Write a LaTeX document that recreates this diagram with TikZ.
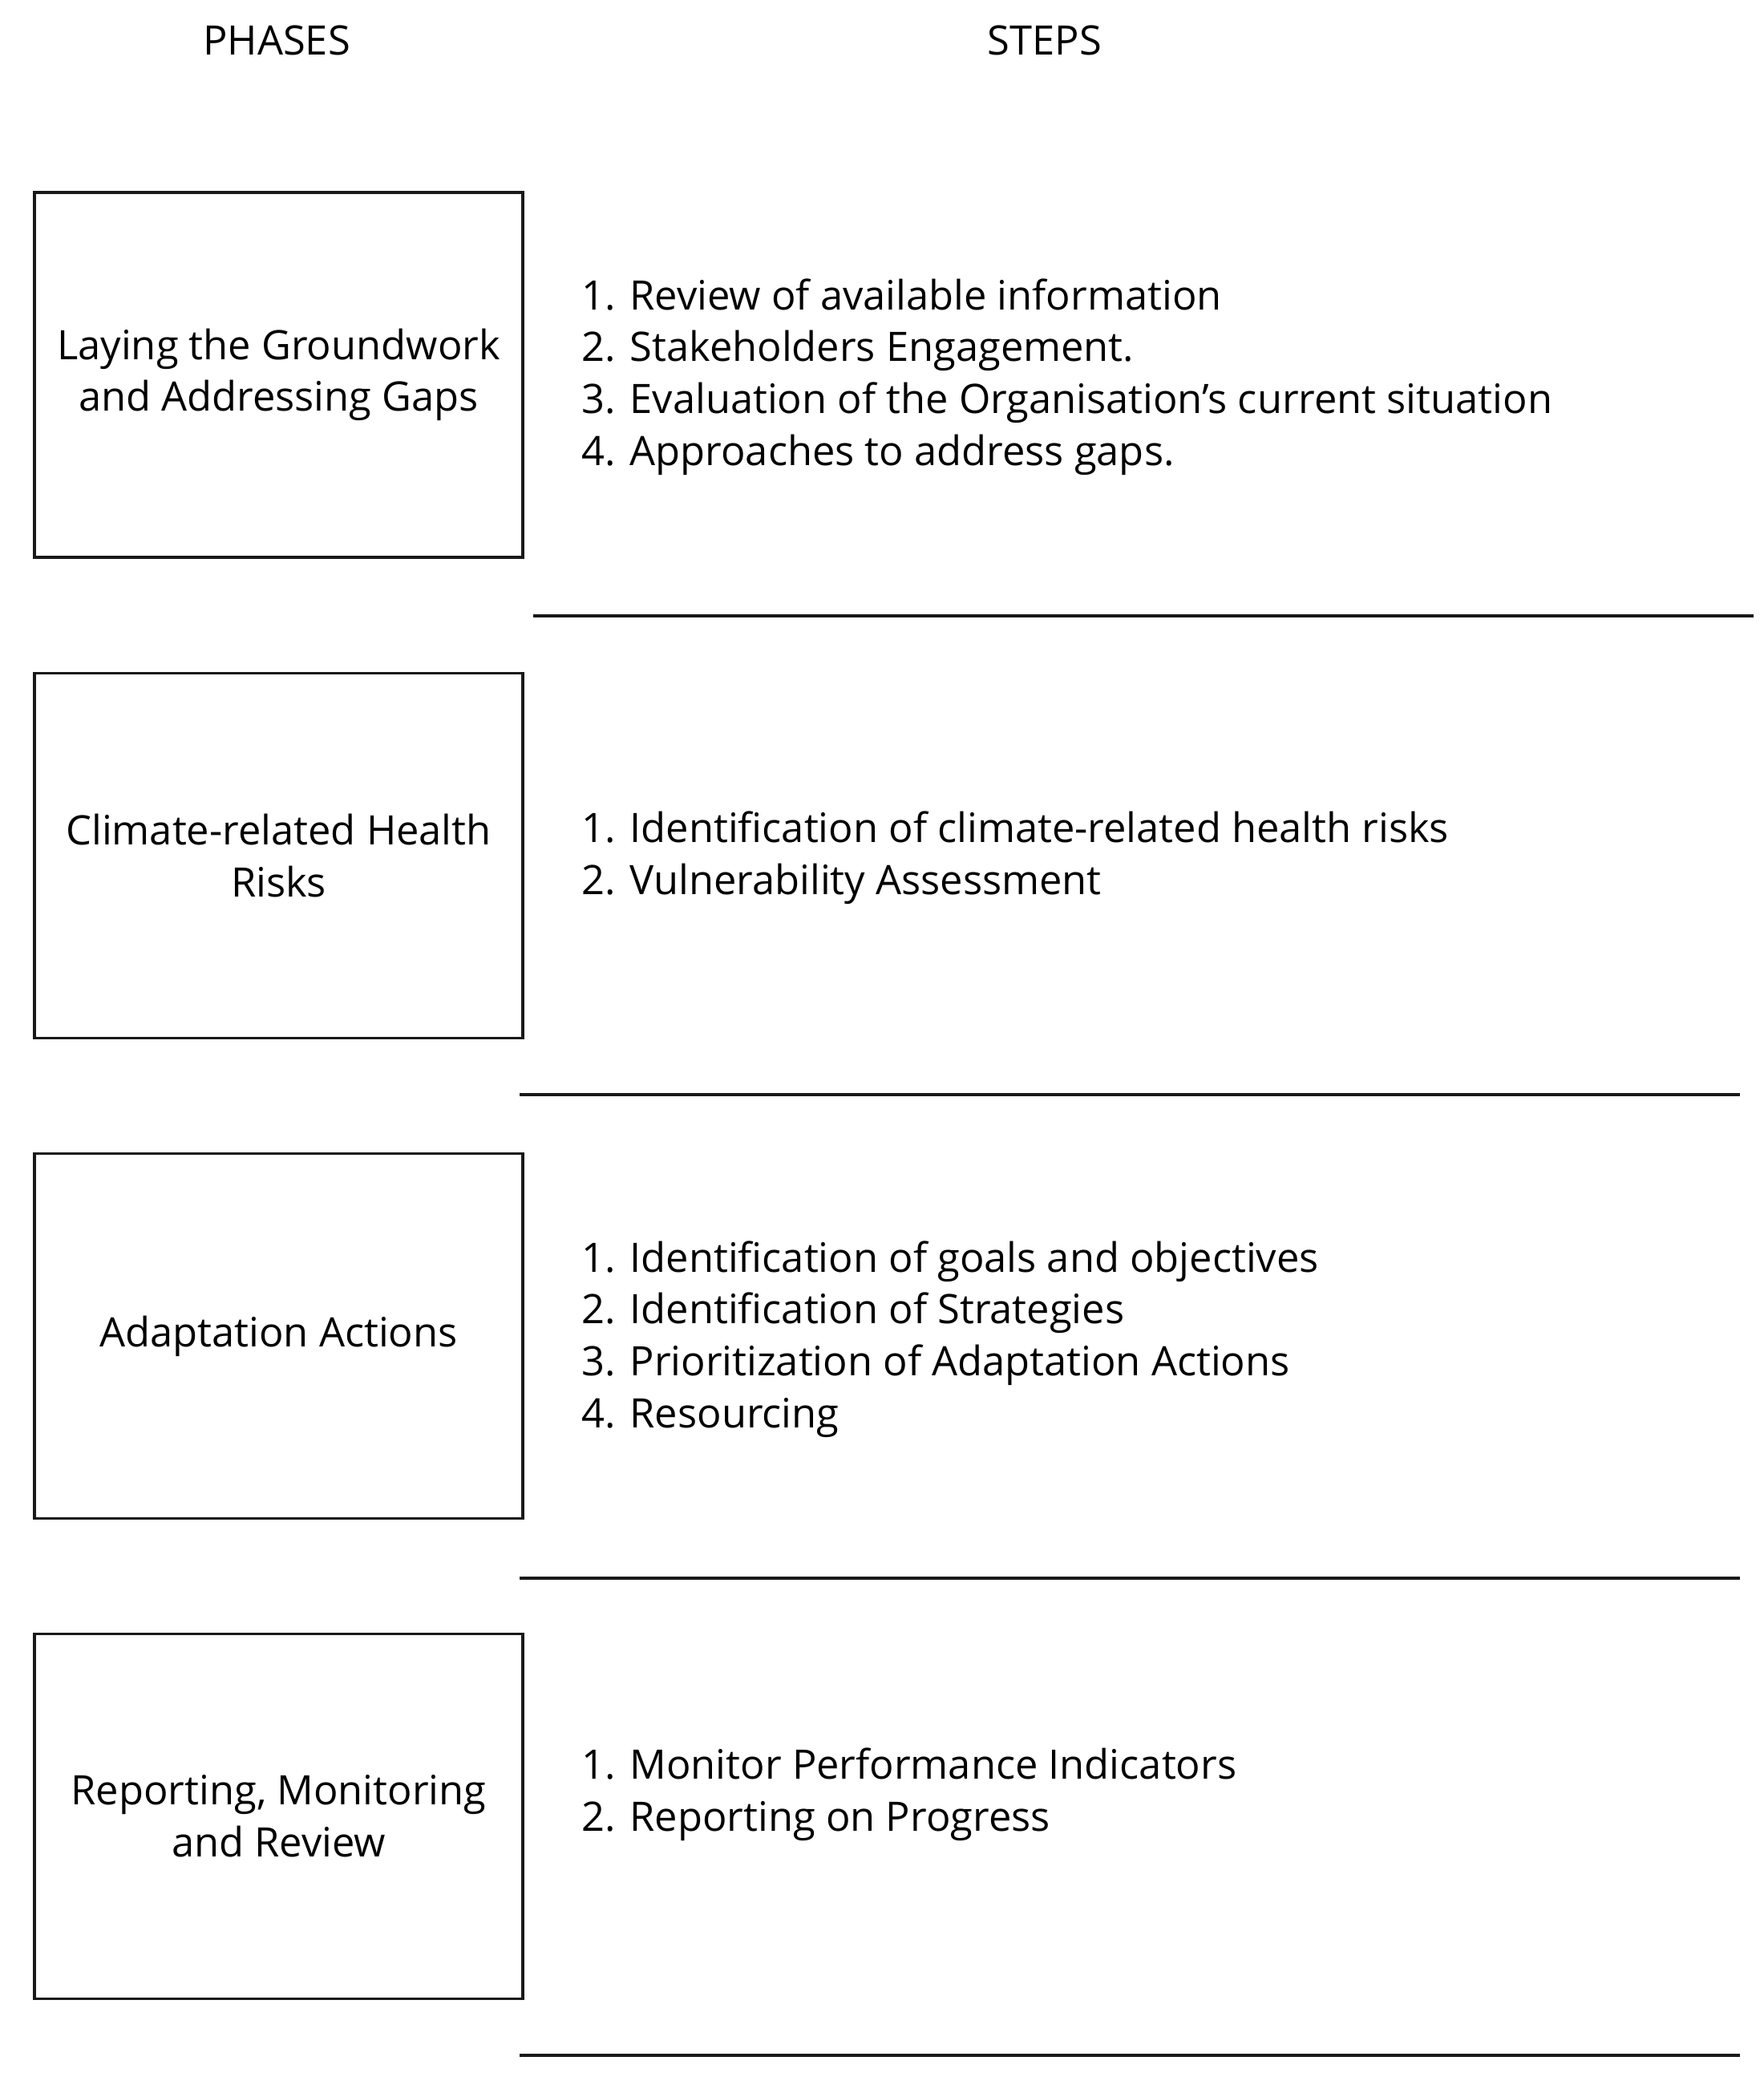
\documentclass[tikz,border=0pt]{standalone}
\usepackage{fontspec}
\setmainfont{Open Sans}
\usetikzlibrary{positioning}

\begin{document}
\begin{tikzpicture}
          [every node/.style = {font = \fontsize{14.4}{18.4}\selectfont, text = black},
           phase/.style = {draw = rulecolor, line width = 0.9pt, minimum width = 6.09cm,
                           minimum height = 4.55cm, align = center, inner sep = 0pt},
           steplist/.style = {anchor = west, align = left, inner sep = 0pt},
           rule/.style = {draw = rulecolor, line width = 0.9pt}]

% Define colors
\colorlet{rulecolor}{black!90}

% frame of the page
\useasboundingbox (0,0) rectangle (22,26);

% Headings
  \node (phases) at (3.45,25.5) {PHASES};
  \node (steps)  at (13.03,25.5) {STEPS};

% Phases
  \node [phase] (ground)  at (3.475,21.325) {Laying the Groundwork\\and Addressing Gaps};
  \node [phase] (risks)   at (3.475,15.33) {Climate-related Health\\Risks};
  \node [phase] (actions) at (3.475,9.34) {Adaptation Actions};
  \node [phase] (review)  at (3.475,3.35) {Reporting, Monitoring\\and Review};

% Steps
  \node [steplist] (groundsteps)  at (7.25,21.30) {1. Review of available information\\2. Stakeholders Engagement.\\3. Evaluation of the Organisation’s current situation\\4. Approaches to address gaps.};
  \node [steplist] (riskssteps)   at (7.25,15.30) {1. Identification of climate-related health risks\\2. Vulnerability Assessment};
  \node [steplist] (actionssteps) at (7.25,9.30) {1. Identification of goals and objectives\\2. Identification of Strategies\\3. Prioritization of Adaptation Actions\\4. Resourcing};
  \node [steplist] (reviewsteps)  at (7.25,3.62) {1. Monitor Performance Indicators\\2. Reporting on Progress};

% separating rules
  \coordinate (r1a) at (6.65,18.32);  \coordinate (r1b) at (21.87,18.32);
  \coordinate (r2a) at (6.48,12.35);  \coordinate (r2b) at (21.70,12.35);
  \coordinate (r3a) at (6.48,6.32);   \coordinate (r3b) at (21.70,6.32);
  \coordinate (r4a) at (6.48,0.37);   \coordinate (r4b) at (21.70,0.37);

  \draw [rule] (r1a) -- (r1b);
  \draw [rule] (r2a) -- (r2b);
  \draw [rule] (r3a) -- (r3b);
  \draw [rule] (r4a) -- (r4b);

\end{tikzpicture}
\end{document}
